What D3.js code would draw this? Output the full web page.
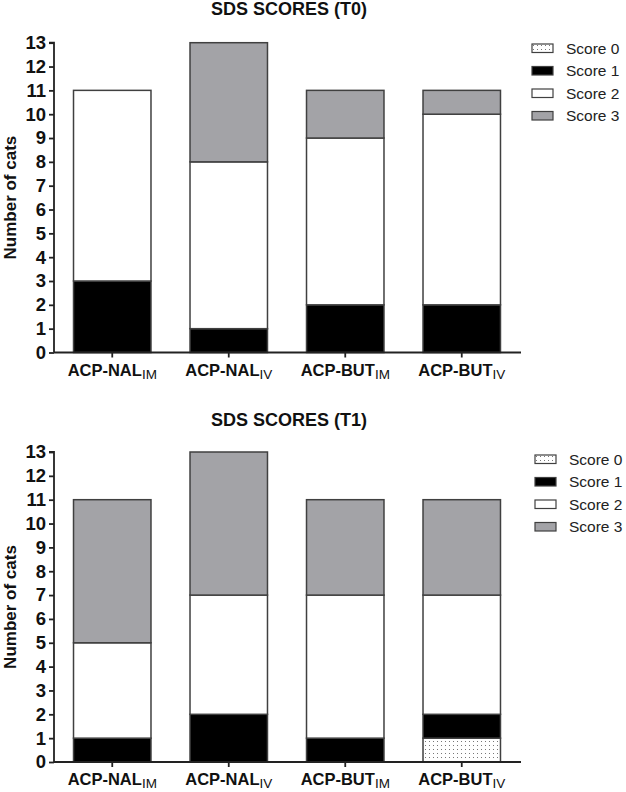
<!DOCTYPE html>
<html><head><meta charset="utf-8">
<script src="https://cdn.jsdelivr.net/npm/d3@7"></script>
<style>body{margin:0;background:#fff}svg{display:block;font-family:"Liberation Sans",Arial,sans-serif}</style>
</head><body>
<svg id="c" width="626" height="792"></svg>
<script>
const categories = ["ACP-NAL", "ACP-NAL", "ACP-BUT", "ACP-BUT"];
const subscripts = ["IM", "IV", "IM", "IV"];
const seriesNames = ["Score 0", "Score 1", "Score 2", "Score 3"];
const yTicks = [0,1,2,3,4,5,6,7,8,9,10,11,12,13];
// T0 values per series (Score 0..3), one per category
const t0Score0 = [0, 0, 0, 0];
const t0Score1 = [3, 1, 2, 2];
const t0Score2 = [8, 7, 7, 8];
const t0Score3 = [0, 5, 2, 1];
// T1
const t1Score0 = [0, 0, 0, 1];
const t1Score1 = [1, 2, 1, 1];
const t1Score2 = [4, 5, 6, 5];
const t1Score3 = [6, 6, 4, 4];

const svg = d3.select("#c");
const defs = svg.append("defs");
const pat = defs.append("pattern").attr("id","dots").attr("width",4).attr("height",4).attr("patternUnits","userSpaceOnUse");
pat.append("rect").attr("width",4).attr("height",4).attr("fill","#fff");
pat.append("rect").attr("x",1).attr("y",1).attr("width",1).attr("height",1).attr("fill","#777");

const fills = ["url(#dots)", "#000", "#fff", "#a3a3a7"];

function drawChart(title, series, titleY, y0, y13, legendY, legendX) {
  const g = svg.append("g");
  const data = categories.map((c,i)=>{
    const o = {i};
    seriesNames.forEach((s,k)=>o[s]=series[k][i]);
    return o;
  });
  const x = d3.scaleBand().domain(d3.range(categories.length)).range([54, 520]).paddingInner(0.335).paddingOuter(0.1675);
  const y = d3.scaleLinear().domain([0,13]).range([y0, y13]);
  const stack = d3.stack().keys(seriesNames)(data);

  g.append("text").attr("x", 289).attr("y", titleY).attr("text-anchor","middle")
    .attr("font-weight","bold").attr("font-size",18).attr("fill","#111").text(title);

  stack.forEach((layer,k)=>{
    g.append("g").selectAll("rect").data(layer.filter(d=>d[1]-d[0]>0)).join("rect")
      .attr("x", d=>x(d.data.i)).attr("width", x.bandwidth())
      .attr("y", d=>y(d[1])).attr("height", d=>y(d[0])-y(d[1]))
      .attr("fill", fills[k]).attr("stroke","#404040").attr("stroke-width",1.5);
  });

  // y axis
  const ya = g.append("g").attr("transform","translate(54,0)")
    .call(d3.axisLeft(y).tickValues(yTicks).tickFormat(d3.format("d")).tickSize(5).tickPadding(3));
  ya.select(".domain").attr("stroke","#222").attr("stroke-width",1.8).attr("d", `M-5,${y(13)}H0V${y(0)}`);
  ya.selectAll(".tick line").attr("stroke","#222").attr("stroke-width",1.8);
  ya.selectAll(".tick text").attr("font-size",18.5).attr("font-weight","bold").attr("fill","#111")
    .attr("font-family","'Liberation Sans',Arial,sans-serif");

  // x axis
  const xa = g.append("g").attr("transform",`translate(0,${y0})`)
    .call(d3.axisBottom(x).tickSize(5).tickFormat(""));
  xa.select(".domain").attr("stroke","#222").attr("stroke-width",1.8).attr("d", `M54,0H521`);
  xa.selectAll(".tick line").attr("stroke","#222").attr("stroke-width",1.8);
  const lab = g.append("g").selectAll("text").data(d3.range(categories.length)).join("text")
    .attr("x", i=>x(i)+x.bandwidth()/2).attr("y", y0+23).attr("text-anchor","middle")
    .attr("font-size",16.5).attr("font-weight","bold").attr("fill","#111");
  lab.append("tspan").text(i=>categories[i]);
  lab.append("tspan").attr("dy",3).attr("font-size",13.5).attr("font-weight","normal").text(i=>subscripts[i]);

  // y label
  g.append("text").attr("transform",`translate(16,${(y0+y13)/2}) rotate(-90)`)
    .attr("text-anchor","middle").attr("font-weight","bold").attr("font-size",17).attr("fill","#111").text("Number of cats");

  // legend
  const lg = g.append("g").selectAll("g").data(seriesNames).join("g")
    .attr("transform",(d,k)=>`translate(${legendX},${legendY + k*22.5})`);
  lg.append("rect").attr("x",0).attr("y",-4).attr("width",21).attr("height",8.5)
    .attr("fill",(d,k)=>fills[k]).attr("stroke","#404040").attr("stroke-width",1.2);
  lg.append("text").attr("x",34).attr("y",5.5).attr("font-size",15.5).attr("fill","#222").text(d=>d);
}

drawChart("SDS SCORES (T0)", [t0Score0,t0Score1,t0Score2,t0Score3], 15, 352.5, 42.7, 48, 532);
drawChart("SDS SCORES (T1)", [t1Score0,t1Score1,t1Score2,t1Score3], 426, 762, 452, 459, 535);
</script>
</body></html>
